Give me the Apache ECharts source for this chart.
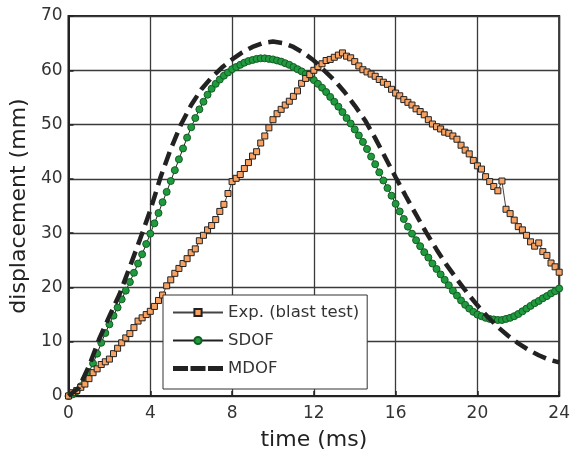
<!DOCTYPE html>
<html>
<head>
<meta charset="utf-8">
<script src="https://cdn.jsdelivr.net/npm/echarts@6/dist/echarts.min.js"></script>
<style>html,body{margin:0;padding:0;background:#fff;}#c{width:573px;height:456px;}</style>
</head>
<body>
<div id="c"></div>
<script>
// time step of the sampled records (ms)
const dt = 0.2;
const xTicks = [0, 4, 8, 12, 16, 20, 24];
const yTicks = [0, 10, 20, 30, 40, 50, 60, 70];
const seriesNames = ['Exp. (blast test)', 'SDOF', 'MDOF'];

// Experimental displacement (mm), every 0.2 ms from 0 to 24 ms
const expValues = [
  0.0, 0.6, 1.0, 1.6, 2.2, 3.2, 4.3, 5.0, 5.8, 6.3,
  6.8, 7.8, 8.8, 9.8, 10.7, 11.5, 12.6, 13.8, 14.4, 15.0,
  15.6, 16.5, 17.6, 18.6, 20.3, 21.4, 22.6, 23.5, 24.4, 25.3,
  26.4, 27.1, 28.6, 29.6, 30.6, 31.4, 32.5, 34.0, 35.3, 37.3,
  39.5, 40.1, 40.8, 41.9, 43.0, 44.2, 45.0, 46.6, 47.9, 49.4,
  50.9, 52.0, 52.8, 53.6, 54.3, 55.2, 56.2, 57.6, 58.5, 59.2,
  60.0, 60.7, 61.2, 61.8, 62.0, 62.4, 62.8, 63.2, 62.6, 62.3,
  61.6, 60.8, 60.1, 59.7, 59.3, 58.9, 58.3, 57.8, 57.4, 56.5,
  55.8, 55.3, 54.6, 54.1, 53.6, 52.9, 52.4, 51.8, 50.9, 50.1,
  49.6, 49.2, 48.6, 48.4, 47.9, 47.3, 46.2, 45.3, 44.6, 43.4,
  42.4, 41.8, 40.4, 39.5, 38.6, 37.8, 39.6, 34.4, 33.6, 32.4,
  31.2, 30.6, 29.6, 28.4, 27.6, 28.2, 26.6, 25.9, 24.5, 23.8,
  22.8
];

// SDOF displacement (mm), every 0.2 ms from 0 to 24 ms
const sdofValues = [
  0.0, 0.3, 0.9, 1.8, 3.0, 4.4, 6.0, 7.8, 9.8, 11.6,
  13.2, 14.8, 16.3, 17.8, 19.4, 21.0, 22.7, 24.4, 26.1, 28.0,
  29.9, 31.8, 33.7, 35.7, 37.6, 39.6, 41.6, 43.6, 45.6, 47.6,
  49.5, 51.2, 52.8, 54.2, 55.5, 56.6, 57.5, 58.3, 59.0, 59.6,
  60.2, 60.6, 61.0, 61.4, 61.7, 61.9, 62.1, 62.2, 62.2, 62.1,
  62.0, 61.8, 61.6, 61.3, 61.0, 60.6, 60.2, 59.8, 59.3, 58.8,
  58.2, 57.5, 56.8, 56.0, 55.1, 54.2, 53.3, 52.3, 51.2, 50.2,
  49.1, 48.0, 46.8, 45.5, 44.1, 42.7, 41.2, 39.7, 38.3, 36.9,
  35.4, 34.0, 32.6, 31.2, 29.9, 28.7, 27.6, 26.5, 25.5, 24.4,
  23.4, 22.4, 21.4, 20.4, 19.4, 18.5, 17.6, 16.8, 16.1, 15.5,
  15.0, 14.7, 14.4, 14.2, 14.1, 14.0, 14.0, 14.2, 14.4, 14.7,
  15.1, 15.6, 16.1, 16.6, 17.1, 17.5, 18.0, 18.4, 18.9, 19.3,
  19.8
];

// MDOF displacement (mm), every 0.5 ms from 0 to 24 ms
const mdofStep = 0.5;
const mdofValues = [
  0.0, 1.5, 5.5, 10.5, 14.7, 18.8, 23.8, 28.9, 34.2, 40.3,
  45.5, 50.0, 53.6, 56.5, 58.7, 60.5, 62.0, 63.3, 64.3, 65.0,
  65.3, 65.0, 64.3, 63.2, 61.8, 60.0, 58.2, 56.0, 53.5, 50.8,
  47.5, 43.9, 40.3, 36.8, 33.4, 30.1, 27.0, 24.1, 21.5, 19.0,
  16.7, 14.6, 12.7, 11.1, 9.7, 8.5, 7.5, 6.7, 6.2
];

const toPairs = (vals, step) => vals.map((v, i) => [+(i * step).toFixed(2), v]);

const FONT = '"DejaVu Sans", sans-serif';
const chart = echarts.init(document.getElementById('c'), null, {renderer: 'canvas'});
chart.setOption({
  animation: false,
  backgroundColor: '#fff',
  grid: {left: 67, right: 7, top: 16, bottom: 58, show: true, borderColor: '#222', borderWidth: 2, backgroundColor: 'transparent'},
  xAxis: {
    type: 'value', min: xTicks[0], max: xTicks[xTicks.length - 1], interval: 4,
    name: 'time (ms)', nameLocation: 'middle', nameGap: 33,
    nameTextStyle: {fontFamily: FONT, fontSize: 22, color: '#222'},
    axisLine: {show: true, lineStyle: {color: '#222', width: 2}},
    axisTick: {show: true, inside: true, length: 5, lineStyle: {color: '#222', width: 1.5}},
    axisLabel: {fontFamily: FONT, fontSize: 17, color: '#333', margin: 9},
    splitLine: {show: true, lineStyle: {color: '#3a3a3a', width: 1.3}}
  },
  yAxis: {
    type: 'value', min: yTicks[0], max: yTicks[yTicks.length - 1], interval: 10,
    name: 'displacement (mm)', nameLocation: 'middle', nameGap: 32,
    nameTextStyle: {fontFamily: FONT, fontSize: 22, color: '#222'},
    axisLine: {show: true, lineStyle: {color: '#222', width: 2}},
    axisTick: {show: true, inside: true, length: 5, lineStyle: {color: '#222', width: 1.5}},
    axisLabel: {fontFamily: FONT, fontSize: 17, color: '#333', margin: 6},
    splitLine: {show: true, lineStyle: {color: '#3a3a3a', width: 1.3}}
  },
  legend: {
    orient: 'vertical', left: 163, top: 295,
    backgroundColor: '#fff', borderColor: '#333', borderWidth: 1,
    padding: [9, 8, 12, 9], itemGap: 11, itemWidth: 50, itemHeight: 9,
    textStyle: {fontFamily: FONT, fontSize: 16.5, color: '#333'},
    data: [
      {name: seriesNames[0]},
      {name: seriesNames[1]},
      {name: seriesNames[2], icon: 'path://M0,0H15V5H0Z M17.5,0H32.5V5H17.5Z M35,0H50V5H35Z'}
    ]
  },
  series: [
    {
      name: seriesNames[1], type: 'line', data: toPairs(sdofValues, dt), z: 2,
      symbol: 'circle', symbolSize: 7, showAllSymbol: true,
      lineStyle: {color: '#222', width: 1},
      itemStyle: {color: '#1f9a3f', borderColor: '#135e22', borderWidth: 1}
    },
    {
      name: seriesNames[0], type: 'line', data: toPairs(expValues, dt), z: 3,
      symbol: 'rect', symbolSize: 6, showAllSymbol: true,
      lineStyle: {color: '#444', width: 1},
      itemStyle: {color: '#f7a262', borderColor: '#222', borderWidth: 1}
    },
    {
      name: seriesNames[2], type: 'line', data: toPairs(mdofValues, mdofStep), z: 4,
      symbol: 'none',
      lineStyle: {color: '#222', width: 4.5, type: [14, 7]},
      itemStyle: {color: '#222'}
    }
  ]
});
</script>
</body>
</html>
